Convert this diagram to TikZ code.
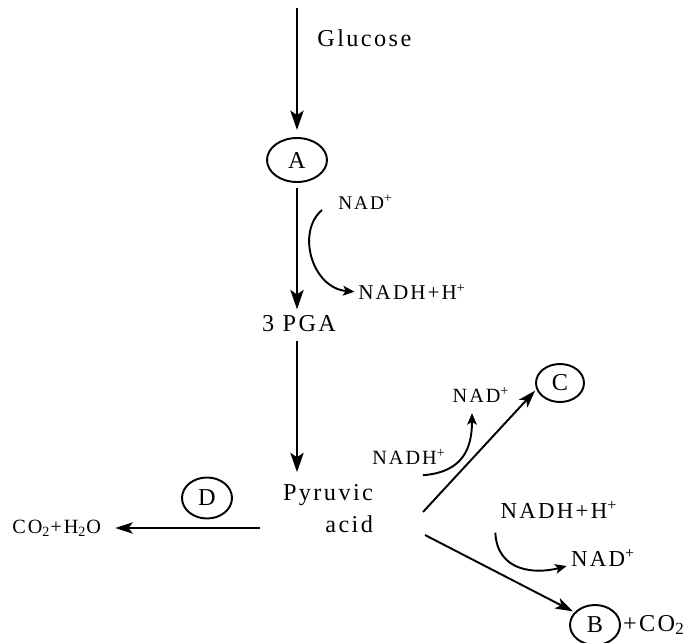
\documentclass[tikz,border=0pt]{standalone}
\usepackage{fontspec}
\setmainfont{Liberation Serif}[LetterSpace=10]
\usetikzlibrary{arrows.meta,shapes.geometric}

\begin{document}
\begin{tikzpicture}[x=0.02cm,y=-0.02cm,
    stage/.style={ellipse,draw,line width=1.1pt,inner sep=0pt,minimum width=1cm,minimum height=0.82cm,font=\fontsize{13.8}{16}\selectfont},
    lbl/.style={inner sep=0pt,font=\fontsize{13.8}{18.2}\selectfont},
    cof/.style={inner sep=0pt,font=\fontsize{#1}{#1}\selectfont},
    cof/.default=11,
    mainarr/.style={line width=1.6pt,-{Stealth[length=11pt,width=7.5pt,inset=2.5pt]}},
    sidearr/.style={line width=1.1pt,-{Stealth[length=10pt,width=6.5pt,inset=2.5pt]}},
    turnarr/.style={line width=1.1pt,-{Stealth[length=6.5pt,width=5.5pt,inset=1.5pt]}}]

    \useasboundingbox (0,0) rectangle (691,643);

    % main pathway
    \coordinate (top) at (297,8);
    \node[lbl,anchor=west] (glu) at (317,38) {Glucose};
    \node[stage,minimum width=1.2cm,minimum height=0.88cm] (A) at (297,160) {A};
    \node[lbl] (pga) at (299,324) {3 PGA};
    \node[lbl,align=right] (pyr) at (328,509) {Pyruvic\\acid};

    \draw[mainarr,shorten >=4pt] (top) -- (A.north);
    \draw[mainarr,shorten <=3pt,shorten >=3.5pt] (A.south) -- (A.south |- pga.north);
    \draw[mainarr,shorten <=5pt,shorten >=7pt] (A.south |- pga.south) -- (A.south |- pyr.north);

    % NAD+ -> NADH+H+
    \node[cof,anchor=west] (nad1) at (338,202) {NAD\textsuperscript{+}};
    \node[cof=12,anchor=west] (nadh1) at (358,292) {NADH+H\textsuperscript{+}};
    \draw[turnarr,shorten >=2pt] ([shift={(-16,8)}]nad1.west) .. controls +(-26,22) and +(-46,-4) .. (nadh1.west);

    % branch to C
    \node[stage,minimum width=0.96cm,minimum height=0.76cm] (C) at (560,383) {C};
    \node[cof=11.5] (nadhc) at (409,457) {NADH\textsuperscript{+}};
    \node[cof=11.5] (nadc) at (481,395) {NAD\textsuperscript{+}};
    \coordinate (cst) at (423,512);
    \draw[sidearr,shorten >=1pt] (cst) -- (C.195);
    \draw[turnarr] ([shift={(14,10)}]nadhc.south) .. controls +(40,-3) and +(0,35) .. ([shift={(-9,10)}]nadc.south);

    % branch to B
    \node[stage,minimum height=0.8cm] (B) at (595,625) {B};
    \node[lbl,anchor=west,inner sep=1pt] (bco2) at (B.east) {+CO\textsubscript{2}};
    \node[cof=13] (nadh2) at (559,510) {NADH+H\textsuperscript{+}};
    \node[cof=13] (nad2) at (603,558) {NAD\textsuperscript{+}};
    \coordinate (bst) at (425,535);
    \draw[sidearr,shorten >=1pt] (bst) -- (B.148);
    \draw[turnarr] ([shift={(-5,14)}]nadh2.south west) .. controls +(2,40) and +(-30,8) .. ([shift={(-4,8)}]nad2.west);

    % branch to D
    \node[stage] (D) at (207,498) {D};
    \node[cof=11.5,anchor=west] (co2) at (12,528) {CO\textsubscript{2}+H\textsubscript{2}O};
    \coordinate (dst) at (260,528);
    \draw[sidearr,shorten >=8pt] (dst) -- (co2.east);

\end{tikzpicture}
\end{document}
